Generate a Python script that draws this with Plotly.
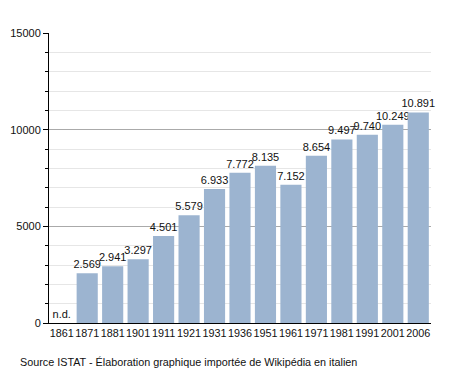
import plotly.graph_objects as go

years = ["1861", "1871", "1881", "1901", "1911", "1921", "1931", "1936",
         "1951", "1961", "1971", "1981", "1991", "2001", "2006"]
population = [0, 2569, 2941, 3297, 4501, 5579, 6933, 7772,
              8135, 7152, 8654, 9497, 9740, 10249, 10891]
labels = ["n.d.", "2.569", "2.941", "3.297", "4.501", "5.579", "6.933", "7.772",
          "8.135", "7.152", "8.654", "9.497", "9.740", "10.249", "10.891"]
y_ticks = [0, 5000, 10000, 15000]
source_text = "Source ISTAT - Élaboration graphique importée de Wikipédia en italien"

fig = go.Figure(go.Bar(
    x=years, y=population, text=labels, textposition="outside",
    constraintext="none",
    textfont=dict(family="Liberation Sans, Arial", size=11, color="#111"),
    marker=dict(color="#9cb4d0", line=dict(width=0)),
    cliponaxis=False,
))

# page body has an 8px margin: figure is sized/offset to compensate
fig.update_layout(
    width=450, height=365,
    margin=dict(l=41, r=27, t=25, b=50, autoexpand=False),
    paper_bgcolor="white", plot_bgcolor="white",
    bargap=0.17, showlegend=False,
    font=dict(family="Liberation Sans, Arial", size=11, color="#111"),
)
fig.update_xaxes(
    type="category", showline=True, linecolor="black", linewidth=1,
    ticks="", tickangle=0, automargin=False,
    tickfont=dict(size=10.8), showgrid=False,
)
fig.update_yaxes(
    range=[0, 15000], tickvals=y_ticks, ticktext=[str(v) for v in y_ticks],
    showline=True, linecolor="black", linewidth=1, automargin=False,
    ticks="outside", ticklen=5, tickcolor="black",
    showgrid=True, gridcolor="#aaaaaa", gridwidth=1,
    zeroline=False,
    minor=dict(dtick=1000, showgrid=True, gridcolor="#e6e6e6",
               ticks="outside", ticklen=3, tickcolor="black"),
)
fig.add_annotation(
    text=source_text, xref="paper", yref="paper", x=-0.08, y=-0.134,
    xanchor="left", yanchor="middle", showarrow=False,
    font=dict(size=10.8, color="#111"),
)
fig.write_html("out.html")
